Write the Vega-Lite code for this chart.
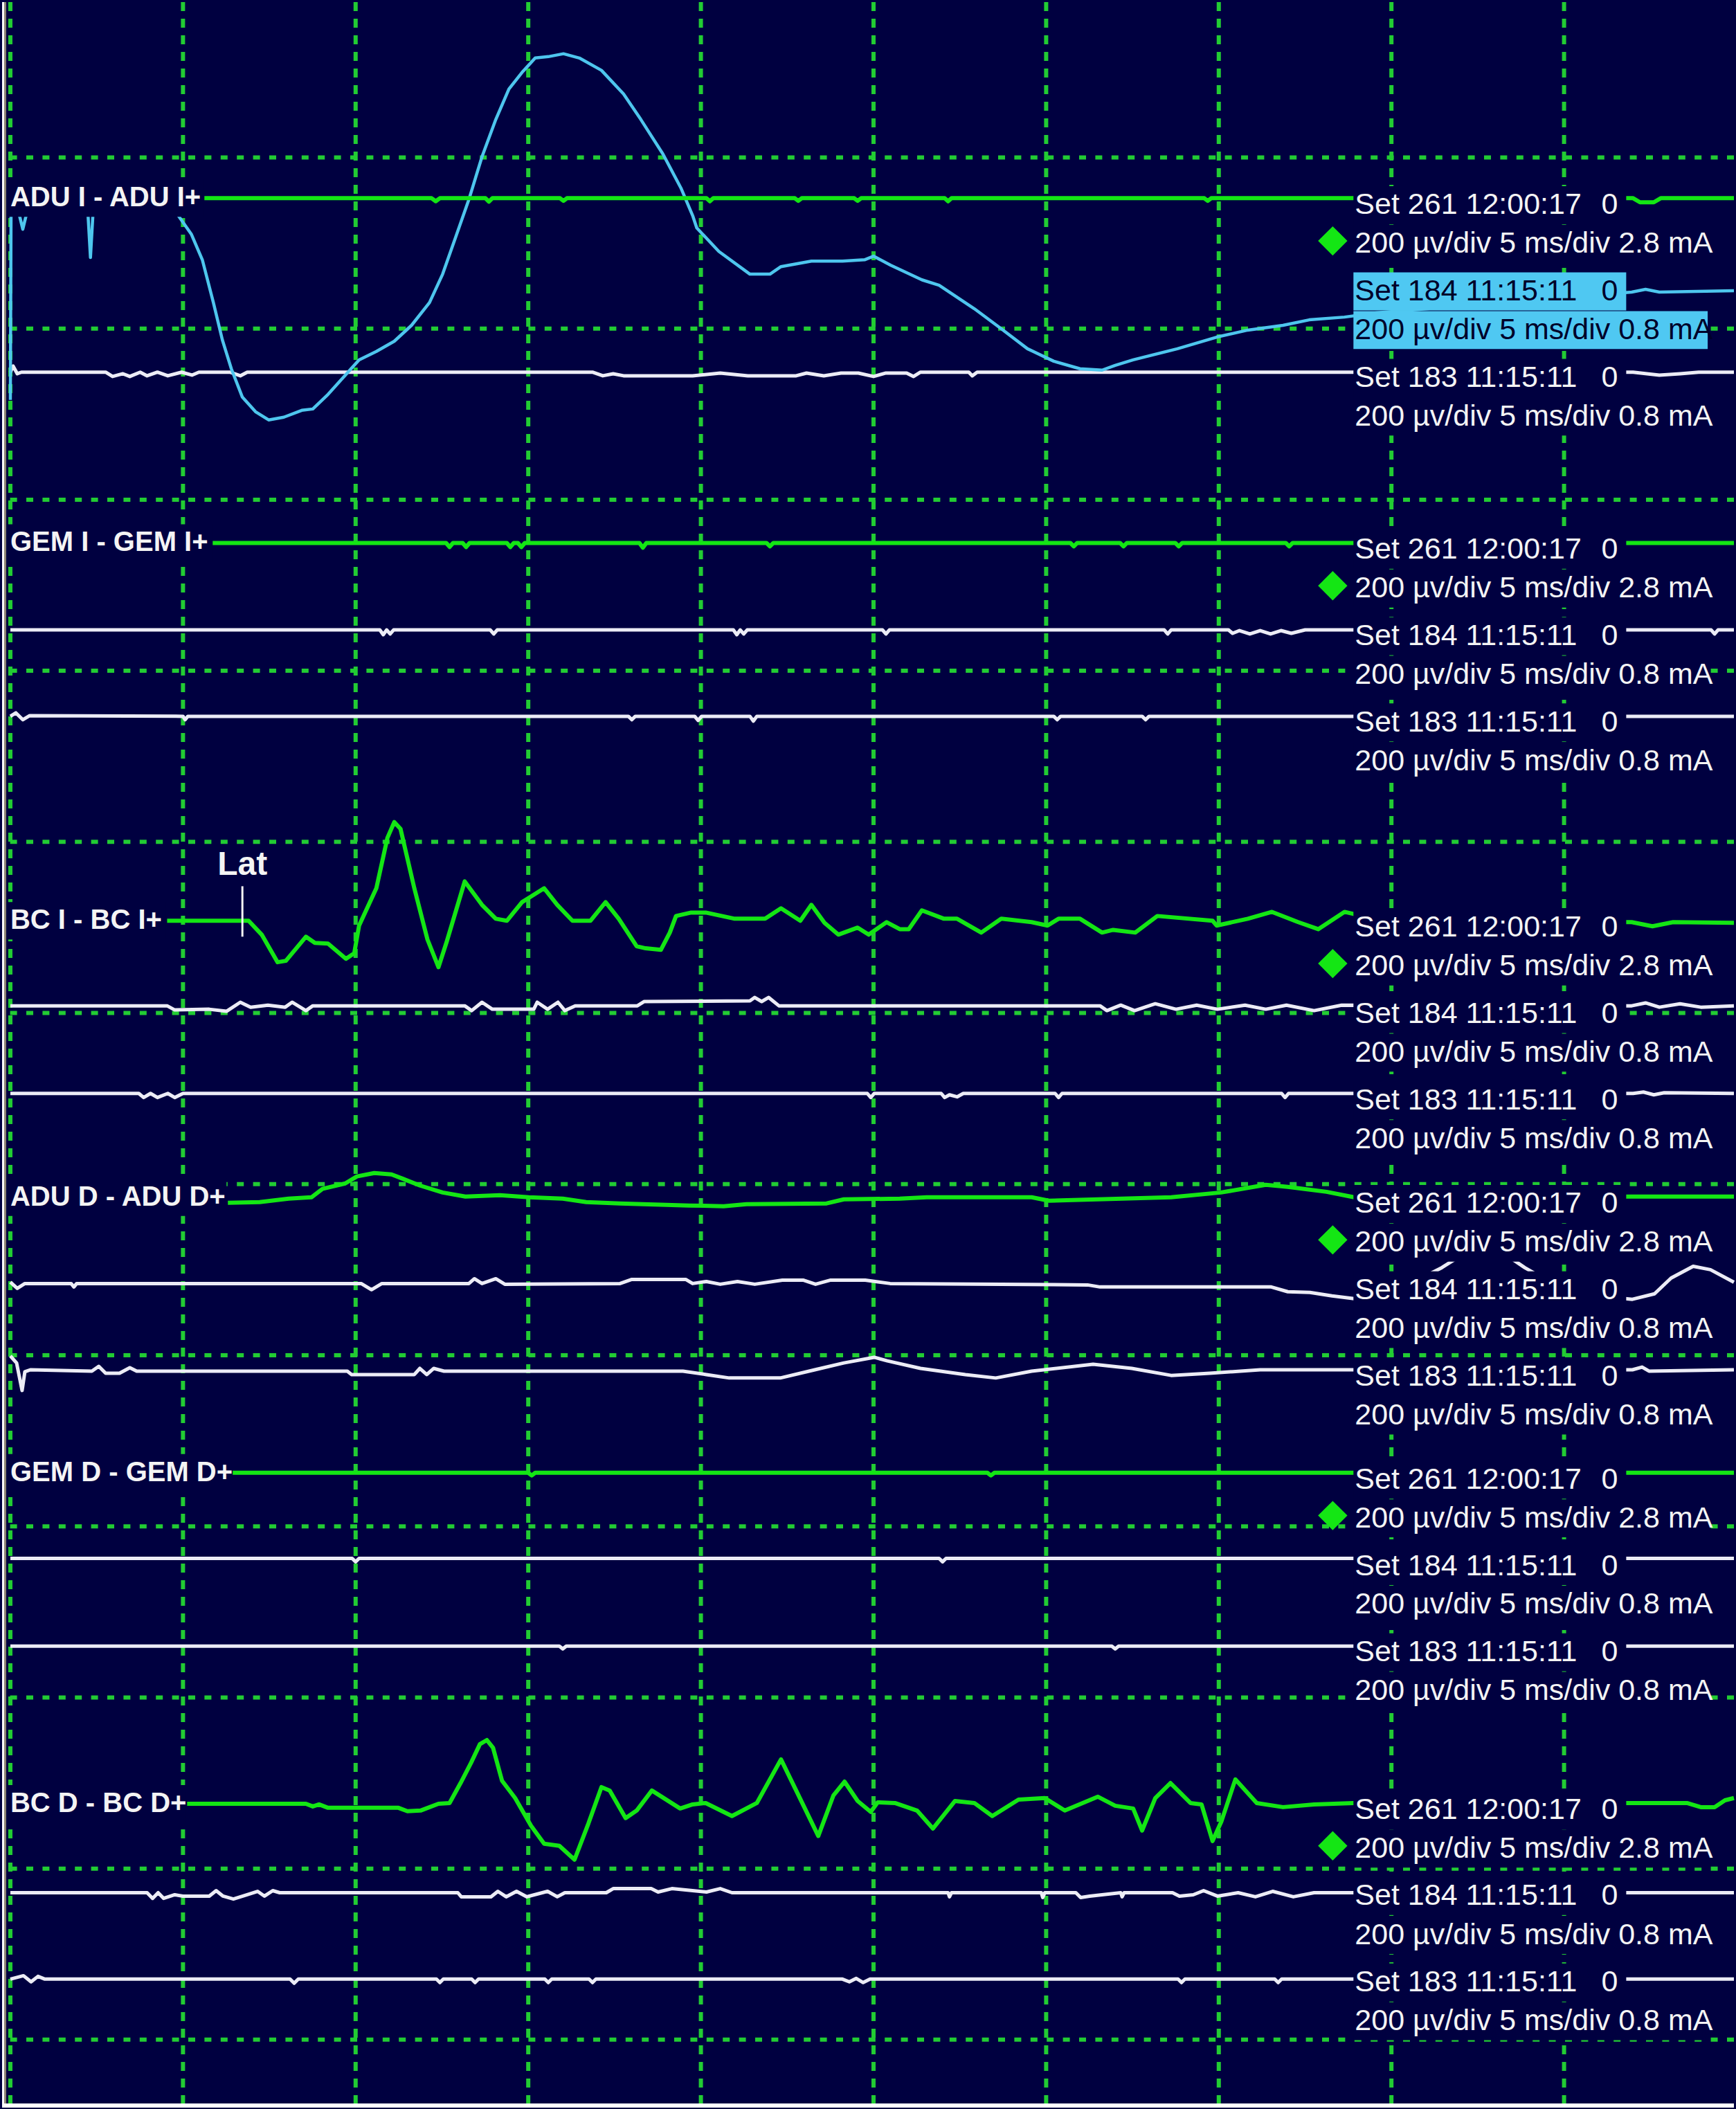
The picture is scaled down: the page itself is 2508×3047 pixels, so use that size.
{
"$schema":"https://vega.github.io/schema/vega-lite/v6.json",
"width":2508,"height":3047,
"autosize":{"type":"fit","contains":"padding"},
"padding":0,
"background":"#000040",
"config":{"view":{"stroke":null}},
"datasets":{
"vgrid":[{"t":0},{"t":5},{"t":10},{"t":15},{"t":20},{"t":25},{"t":30},{"t":35},{"t":40},{"t":45}],
"hgrid":[{"v":0},{"v":-1},{"v":-2},{"v":-3},{"v":-4},{"v":-5},{"v":-6},{"v":-7},{"v":-8},{"v":-9},{"v":-10},{"v":-11}],
"frameV":[{"t":-0.21,"col":"#ffffff"},{"t":-0.15,"col":"#8c8474"}],
"frameH":[{"v":-11.385}],
"traces":[
{"id":"g1","c":"g","t":5.62,"v":-0.238},{"id":"g1","c":"g","t":12.2,"v":-0.238},{"id":"g1","c":"g","t":12.32,"v":-0.256},{"id":"g1","c":"g","t":12.44,"v":-0.238},{"id":"g1","c":"g","t":13.76,"v":-0.238},{"id":"g1","c":"g","t":13.86,"v":-0.258},{"id":"g1","c":"g","t":13.96,"v":-0.238},{"id":"g1","c":"g","t":15.92,"v":-0.238},{"id":"g1","c":"g","t":16.02,"v":-0.254},{"id":"g1","c":"g","t":16.12,"v":-0.238},{"id":"g1","c":"g","t":20.16,"v":-0.238},{"id":"g1","c":"g","t":20.26,"v":-0.256},{"id":"g1","c":"g","t":20.36,"v":-0.238},{"id":"g1","c":"g","t":22.72,"v":-0.238},{"id":"g1","c":"g","t":22.82,"v":-0.254},{"id":"g1","c":"g","t":22.92,"v":-0.238},{"id":"g1","c":"g","t":24.44,"v":-0.238},{"id":"g1","c":"g","t":24.54,"v":-0.254},{"id":"g1","c":"g","t":24.64,"v":-0.238},{"id":"g1","c":"g","t":27.06,"v":-0.238},{"id":"g1","c":"g","t":27.16,"v":-0.256},{"id":"g1","c":"g","t":27.26,"v":-0.238},{"id":"g1","c":"g","t":34.58,"v":-0.238},{"id":"g1","c":"g","t":34.68,"v":-0.254},{"id":"g1","c":"g","t":34.78,"v":-0.238},{"id":"g1","c":"g","t":47.0,"v":-0.238},{"id":"g1","c":"g","t":47.2,"v":-0.262},{"id":"g1","c":"g","t":47.6,"v":-0.262},{"id":"g1","c":"g","t":47.8,"v":-0.238},{"id":"g1","c":"g","t":49.92,"v":-0.238},
{"id":"c1","c":"c","t":0.0,"v":-1.417},{"id":"c1","c":"c","t":0.02,"v":-0.303},{"id":"c1","c":"c","t":0.22,"v":-0.303},{"id":"c1","c":"c","t":0.36,"v":-0.42},{"id":"c1","c":"c","t":0.5,"v":-0.303},{"id":"c1","c":"c","t":2.24,"v":-0.303},{"id":"c1","c":"c","t":2.32,"v":-0.585},{"id":"c1","c":"c","t":2.4,"v":-0.303},{"id":"c1","c":"c","t":4.76,"v":-0.303},{"id":"c1","c":"c","t":4.86,"v":-0.339},{"id":"c1","c":"c","t":5.24,"v":-0.448},{"id":"c1","c":"c","t":5.56,"v":-0.598},{"id":"c1","c":"c","t":5.88,"v":-0.848},{"id":"c1","c":"c","t":6.14,"v":-1.066},{"id":"c1","c":"c","t":6.4,"v":-1.235},{"id":"c1","c":"c","t":6.72,"v":-1.401},{"id":"c1","c":"c","t":7.1,"v":-1.486},{"id":"c1","c":"c","t":7.48,"v":-1.534},{"id":"c1","c":"c","t":7.92,"v":-1.518},{"id":"c1","c":"c","t":8.44,"v":-1.478},{"id":"c1","c":"c","t":8.76,"v":-1.47},{"id":"c1","c":"c","t":9.2,"v":-1.385},{"id":"c1","c":"c","t":9.72,"v":-1.268},{"id":"c1","c":"c","t":10.1,"v":-1.183},{"id":"c1","c":"c","t":10.6,"v":-1.134},{"id":"c1","c":"c","t":11.12,"v":-1.074},{"id":"c1","c":"c","t":11.62,"v":-0.981},{"id":"c1","c":"c","t":12.14,"v":-0.848},{"id":"c1","c":"c","t":12.52,"v":-0.682},{"id":"c1","c":"c","t":12.9,"v":-0.464},{"id":"c1","c":"c","t":13.28,"v":-0.246},{"id":"c1","c":"c","t":13.66,"v":0.004},{"id":"c1","c":"c","t":14.06,"v":0.222},{"id":"c1","c":"c","t":14.44,"v":0.4},{"id":"c1","c":"c","t":14.82,"v":0.497},{"id":"c1","c":"c","t":15.2,"v":0.581},{"id":"c1","c":"c","t":15.58,"v":0.589},{"id":"c1","c":"c","t":16.02,"v":0.606},{"id":"c1","c":"c","t":16.48,"v":0.581},{"id":"c1","c":"c","t":17.12,"v":0.509},{"id":"c1","c":"c","t":17.76,"v":0.371},{"id":"c1","c":"c","t":18.26,"v":0.222},{"id":"c1","c":"c","t":18.9,"v":0.02},{"id":"c1","c":"c","t":19.42,"v":-0.178},{"id":"c1","c":"c","t":19.76,"v":-0.339},{"id":"c1","c":"c","t":19.88,"v":-0.412},{"id":"c1","c":"c","t":20.52,"v":-0.549},{"id":"c1","c":"c","t":21.42,"v":-0.682},{"id":"c1","c":"c","t":22.0,"v":-0.682},{"id":"c1","c":"c","t":22.32,"v":-0.638},{"id":"c1","c":"c","t":23.2,"v":-0.606},{"id":"c1","c":"c","t":24.1,"v":-0.606},{"id":"c1","c":"c","t":24.74,"v":-0.598},{"id":"c1","c":"c","t":25.0,"v":-0.577},{"id":"c1","c":"c","t":25.5,"v":-0.63},{"id":"c1","c":"c","t":26.4,"v":-0.715},{"id":"c1","c":"c","t":26.9,"v":-0.747},{"id":"c1","c":"c","t":27.92,"v":-0.884},{"id":"c1","c":"c","t":28.7,"v":-1.001},{"id":"c1","c":"c","t":29.46,"v":-1.118},{"id":"c1","c":"c","t":30.22,"v":-1.191},{"id":"c1","c":"c","t":30.98,"v":-1.235},{"id":"c1","c":"c","t":31.62,"v":-1.243},{"id":"c1","c":"c","t":32.0,"v":-1.215},{"id":"c1","c":"c","t":32.52,"v":-1.183},{"id":"c1","c":"c","t":33.8,"v":-1.118},{"id":"c1","c":"c","t":34.94,"v":-1.05},{"id":"c1","c":"c","t":35.84,"v":-1.009},{"id":"c1","c":"c","t":36.86,"v":-0.981},{"id":"c1","c":"c","t":37.62,"v":-0.949},{"id":"c1","c":"c","t":38.64,"v":-0.933},{"id":"c1","c":"c","t":39.56,"v":-0.908},{"id":"c1","c":"c","t":46.96,"v":-0.787},{"id":"c1","c":"c","t":47.36,"v":-0.771},{"id":"c1","c":"c","t":47.76,"v":-0.787},{"id":"c1","c":"c","t":49.92,"v":-0.779},
{"id":"w1","c":"w","t":0,"v":-1.255},{"id":"w1","c":"w","t":0.08,"v":-1.219},{"id":"w1","c":"w","t":0.2,"v":-1.264},{"id":"w1","c":"w","t":0.32,"v":-1.255},{"id":"w1","c":"w","t":2.76,"v":-1.255},{"id":"w1","c":"w","t":2.96,"v":-1.28},{"id":"w1","c":"w","t":3.26,"v":-1.264},{"id":"w1","c":"w","t":3.46,"v":-1.28},{"id":"w1","c":"w","t":3.76,"v":-1.255},{"id":"w1","c":"w","t":3.96,"v":-1.276},{"id":"w1","c":"w","t":4.26,"v":-1.255},{"id":"w1","c":"w","t":4.56,"v":-1.276},{"id":"w1","c":"w","t":4.96,"v":-1.255},{"id":"w1","c":"w","t":5.26,"v":-1.272},{"id":"w1","c":"w","t":5.46,"v":-1.255},{"id":"w1","c":"w","t":6.36,"v":-1.255},{"id":"w1","c":"w","t":6.66,"v":-1.276},{"id":"w1","c":"w","t":6.86,"v":-1.255},{"id":"w1","c":"w","t":16.86,"v":-1.255},{"id":"w1","c":"w","t":17.16,"v":-1.276},{"id":"w1","c":"w","t":17.46,"v":-1.264},{"id":"w1","c":"w","t":17.76,"v":-1.276},{"id":"w1","c":"w","t":19.76,"v":-1.276},{"id":"w1","c":"w","t":20.56,"v":-1.26},{"id":"w1","c":"w","t":21.36,"v":-1.276},{"id":"w1","c":"w","t":22.76,"v":-1.276},{"id":"w1","c":"w","t":23.06,"v":-1.26},{"id":"w1","c":"w","t":23.56,"v":-1.276},{"id":"w1","c":"w","t":24.06,"v":-1.26},{"id":"w1","c":"w","t":24.56,"v":-1.26},{"id":"w1","c":"w","t":25.0,"v":-1.28},{"id":"w1","c":"w","t":25.36,"v":-1.26},{"id":"w1","c":"w","t":25.96,"v":-1.26},{"id":"w1","c":"w","t":26.16,"v":-1.28},{"id":"w1","c":"w","t":26.36,"v":-1.255},{"id":"w1","c":"w","t":27.76,"v":-1.255},{"id":"w1","c":"w","t":27.86,"v":-1.276},{"id":"w1","c":"w","t":28.0,"v":-1.255},{"id":"w1","c":"w","t":47.0,"v":-1.255},{"id":"w1","c":"w","t":47.76,"v":-1.272},{"id":"w1","c":"w","t":48.36,"v":-1.264},{"id":"w1","c":"w","t":48.9,"v":-1.255},{"id":"w1","c":"w","t":49.92,"v":-1.255},
{"id":"g2","c":"g","t":5.86,"v":-2.253},{"id":"g2","c":"g","t":12.62,"v":-2.253},{"id":"g2","c":"g","t":12.72,"v":-2.277},{"id":"g2","c":"g","t":12.82,"v":-2.253},{"id":"g2","c":"g","t":13.1,"v":-2.253},{"id":"g2","c":"g","t":13.2,"v":-2.277},{"id":"g2","c":"g","t":13.3,"v":-2.253},{"id":"g2","c":"g","t":14.38,"v":-2.253},{"id":"g2","c":"g","t":14.48,"v":-2.277},{"id":"g2","c":"g","t":14.58,"v":-2.253},{"id":"g2","c":"g","t":14.7,"v":-2.253},{"id":"g2","c":"g","t":14.8,"v":-2.277},{"id":"g2","c":"g","t":14.9,"v":-2.253},{"id":"g2","c":"g","t":18.22,"v":-2.253},{"id":"g2","c":"g","t":18.32,"v":-2.281},{"id":"g2","c":"g","t":18.42,"v":-2.253},{"id":"g2","c":"g","t":21.9,"v":-2.253},{"id":"g2","c":"g","t":22.0,"v":-2.273},{"id":"g2","c":"g","t":22.1,"v":-2.253},{"id":"g2","c":"g","t":30.7,"v":-2.253},{"id":"g2","c":"g","t":30.8,"v":-2.273},{"id":"g2","c":"g","t":30.9,"v":-2.253},{"id":"g2","c":"g","t":32.14,"v":-2.253},{"id":"g2","c":"g","t":32.24,"v":-2.273},{"id":"g2","c":"g","t":32.34,"v":-2.253},{"id":"g2","c":"g","t":33.74,"v":-2.253},{"id":"g2","c":"g","t":33.84,"v":-2.273},{"id":"g2","c":"g","t":33.94,"v":-2.253},{"id":"g2","c":"g","t":36.94,"v":-2.253},{"id":"g2","c":"g","t":37.04,"v":-2.273},{"id":"g2","c":"g","t":37.14,"v":-2.253},{"id":"g2","c":"g","t":49.92,"v":-2.253},
{"id":"w2a","c":"w","t":0,"v":-2.761},{"id":"w2a","c":"w","t":10.7,"v":-2.761},{"id":"w2a","c":"w","t":10.8,"v":-2.789},{"id":"w2a","c":"w","t":10.9,"v":-2.761},{"id":"w2a","c":"w","t":11.0,"v":-2.785},{"id":"w2a","c":"w","t":11.1,"v":-2.761},{"id":"w2a","c":"w","t":13.9,"v":-2.761},{"id":"w2a","c":"w","t":14.0,"v":-2.785},{"id":"w2a","c":"w","t":14.1,"v":-2.761},{"id":"w2a","c":"w","t":20.94,"v":-2.761},{"id":"w2a","c":"w","t":21.04,"v":-2.789},{"id":"w2a","c":"w","t":21.14,"v":-2.761},{"id":"w2a","c":"w","t":21.24,"v":-2.785},{"id":"w2a","c":"w","t":21.34,"v":-2.761},{"id":"w2a","c":"w","t":25.26,"v":-2.761},{"id":"w2a","c":"w","t":25.36,"v":-2.785},{"id":"w2a","c":"w","t":25.46,"v":-2.761},{"id":"w2a","c":"w","t":33.42,"v":-2.761},{"id":"w2a","c":"w","t":33.52,"v":-2.785},{"id":"w2a","c":"w","t":33.62,"v":-2.761},{"id":"w2a","c":"w","t":35.28,"v":-2.761},{"id":"w2a","c":"w","t":35.4,"v":-2.781},{"id":"w2a","c":"w","t":35.6,"v":-2.765},{"id":"w2a","c":"w","t":35.9,"v":-2.785},{"id":"w2a","c":"w","t":36.2,"v":-2.765},{"id":"w2a","c":"w","t":36.5,"v":-2.785},{"id":"w2a","c":"w","t":36.8,"v":-2.765},{"id":"w2a","c":"w","t":37.1,"v":-2.781},{"id":"w2a","c":"w","t":37.5,"v":-2.761},{"id":"w2a","c":"w","t":49.26,"v":-2.761},{"id":"w2a","c":"w","t":49.36,"v":-2.785},{"id":"w2a","c":"w","t":49.46,"v":-2.761},{"id":"w2a","c":"w","t":49.92,"v":-2.761},
{"id":"w2b","c":"w","t":0,"v":-3.266},{"id":"w2b","c":"w","t":0.16,"v":-3.246},{"id":"w2b","c":"w","t":0.36,"v":-3.286},{"id":"w2b","c":"w","t":0.56,"v":-3.262},{"id":"w2b","c":"w","t":5.0,"v":-3.266},{"id":"w2b","c":"w","t":5.06,"v":-3.286},{"id":"w2b","c":"w","t":5.14,"v":-3.266},{"id":"w2b","c":"w","t":17.9,"v":-3.266},{"id":"w2b","c":"w","t":18.0,"v":-3.286},{"id":"w2b","c":"w","t":18.1,"v":-3.266},{"id":"w2b","c":"w","t":19.82,"v":-3.266},{"id":"w2b","c":"w","t":19.92,"v":-3.29},{"id":"w2b","c":"w","t":20.02,"v":-3.266},{"id":"w2b","c":"w","t":21.42,"v":-3.266},{"id":"w2b","c":"w","t":21.52,"v":-3.294},{"id":"w2b","c":"w","t":21.62,"v":-3.266},{"id":"w2b","c":"w","t":30.22,"v":-3.266},{"id":"w2b","c":"w","t":30.32,"v":-3.286},{"id":"w2b","c":"w","t":30.42,"v":-3.266},{"id":"w2b","c":"w","t":32.78,"v":-3.266},{"id":"w2b","c":"w","t":32.88,"v":-3.286},{"id":"w2b","c":"w","t":32.98,"v":-3.266},{"id":"w2b","c":"w","t":49.92,"v":-3.266},
{"id":"g3","c":"g","t":4.54,"v":-4.461},{"id":"g3","c":"g","t":6.9,"v":-4.461},{"id":"g3","c":"g","t":7.28,"v":-4.542},{"id":"g3","c":"g","t":7.74,"v":-4.703},{"id":"g3","c":"g","t":7.98,"v":-4.695},{"id":"g3","c":"g","t":8.56,"v":-4.554},{"id":"g3","c":"g","t":8.82,"v":-4.59},{"id":"g3","c":"g","t":9.2,"v":-4.594},{"id":"g3","c":"g","t":9.72,"v":-4.683},{"id":"g3","c":"g","t":9.96,"v":-4.651},{"id":"g3","c":"g","t":10.1,"v":-4.489},{"id":"g3","c":"g","t":10.6,"v":-4.271},{"id":"g3","c":"g","t":10.92,"v":-3.977},{"id":"g3","c":"g","t":11.12,"v":-3.884},{"id":"g3","c":"g","t":11.3,"v":-3.924},{"id":"g3","c":"g","t":11.7,"v":-4.271},{"id":"g3","c":"g","t":12.08,"v":-4.57},{"id":"g3","c":"g","t":12.4,"v":-4.732},{"id":"g3","c":"g","t":12.64,"v":-4.582},{"id":"g3","c":"g","t":13.16,"v":-4.231},{"id":"g3","c":"g","t":13.66,"v":-4.368},{"id":"g3","c":"g","t":14.06,"v":-4.449},{"id":"g3","c":"g","t":14.38,"v":-4.461},{"id":"g3","c":"g","t":14.82,"v":-4.352},{"id":"g3","c":"g","t":15.46,"v":-4.271},{"id":"g3","c":"g","t":15.84,"v":-4.368},{"id":"g3","c":"g","t":16.28,"v":-4.461},{"id":"g3","c":"g","t":16.8,"v":-4.461},{"id":"g3","c":"g","t":17.24,"v":-4.352},{"id":"g3","c":"g","t":17.62,"v":-4.449},{"id":"g3","c":"g","t":18.14,"v":-4.61},{"id":"g3","c":"g","t":18.4,"v":-4.622},{"id":"g3","c":"g","t":18.84,"v":-4.631},{"id":"g3","c":"g","t":19.1,"v":-4.53},{"id":"g3","c":"g","t":19.28,"v":-4.433},{"id":"g3","c":"g","t":19.72,"v":-4.413},{"id":"g3","c":"g","t":20.14,"v":-4.413},{"id":"g3","c":"g","t":20.98,"v":-4.449},{"id":"g3","c":"g","t":21.86,"v":-4.449},{"id":"g3","c":"g","t":22.32,"v":-4.388},{"id":"g3","c":"g","t":22.88,"v":-4.461},{"id":"g3","c":"g","t":23.2,"v":-4.368},{"id":"g3","c":"g","t":23.58,"v":-4.473},{"id":"g3","c":"g","t":23.98,"v":-4.542},{"id":"g3","c":"g","t":24.54,"v":-4.501},{"id":"g3","c":"g","t":24.86,"v":-4.542},{"id":"g3","c":"g","t":25.38,"v":-4.469},{"id":"g3","c":"g","t":25.76,"v":-4.51},{"id":"g3","c":"g","t":26.02,"v":-4.51},{"id":"g3","c":"g","t":26.4,"v":-4.4},{"id":"g3","c":"g","t":27.04,"v":-4.449},{"id":"g3","c":"g","t":27.42,"v":-4.449},{"id":"g3","c":"g","t":28.12,"v":-4.53},{"id":"g3","c":"g","t":28.7,"v":-4.449},{"id":"g3","c":"g","t":29.58,"v":-4.469},{"id":"g3","c":"g","t":30.04,"v":-4.489},{"id":"g3","c":"g","t":30.36,"v":-4.449},{"id":"g3","c":"g","t":30.98,"v":-4.449},{"id":"g3","c":"g","t":31.62,"v":-4.53},{"id":"g3","c":"g","t":31.94,"v":-4.514},{"id":"g3","c":"g","t":32.58,"v":-4.53},{"id":"g3","c":"g","t":33.22,"v":-4.433},{"id":"g3","c":"g","t":34.82,"v":-4.461},{"id":"g3","c":"g","t":34.94,"v":-4.489},{"id":"g3","c":"g","t":35.84,"v":-4.449},{"id":"g3","c":"g","t":36.54,"v":-4.409},{"id":"g3","c":"g","t":37.3,"v":-4.469},{"id":"g3","c":"g","t":37.88,"v":-4.51},{"id":"g3","c":"g","t":38.64,"v":-4.409},{"id":"g3","c":"g","t":38.9,"v":-4.421},{"id":"g3","c":"g","t":39.76,"v":-4.461},{"id":"g3","c":"g","t":46.96,"v":-4.469},{"id":"g3","c":"g","t":47.56,"v":-4.493},{"id":"g3","c":"g","t":48.16,"v":-4.469},{"id":"g3","c":"g","t":49.92,"v":-4.473},
{"id":"w3a","c":"w","t":0,"v":-4.958},{"id":"w3a","c":"w","t":4.54,"v":-4.958},{"id":"w3a","c":"w","t":4.76,"v":-4.982},{"id":"w3a","c":"w","t":5.76,"v":-4.978},{"id":"w3a","c":"w","t":6.26,"v":-4.99},{"id":"w3a","c":"w","t":6.66,"v":-4.937},{"id":"w3a","c":"w","t":6.96,"v":-4.966},{"id":"w3a","c":"w","t":7.46,"v":-4.954},{"id":"w3a","c":"w","t":7.96,"v":-4.966},{"id":"w3a","c":"w","t":8.16,"v":-4.937},{"id":"w3a","c":"w","t":8.56,"v":-4.986},{"id":"w3a","c":"w","t":8.76,"v":-4.958},{"id":"w3a","c":"w","t":13.16,"v":-4.958},{"id":"w3a","c":"w","t":13.36,"v":-4.986},{"id":"w3a","c":"w","t":13.66,"v":-4.937},{"id":"w3a","c":"w","t":13.96,"v":-4.978},{"id":"w3a","c":"w","t":15.16,"v":-4.978},{"id":"w3a","c":"w","t":15.26,"v":-4.937},{"id":"w3a","c":"w","t":15.56,"v":-4.978},{"id":"w3a","c":"w","t":15.86,"v":-4.937},{"id":"w3a","c":"w","t":16.06,"v":-4.986},{"id":"w3a","c":"w","t":16.36,"v":-4.958},{"id":"w3a","c":"w","t":18.16,"v":-4.958},{"id":"w3a","c":"w","t":18.36,"v":-4.933},{"id":"w3a","c":"w","t":21.42,"v":-4.929},{"id":"w3a","c":"w","t":21.56,"v":-4.909},{"id":"w3a","c":"w","t":21.76,"v":-4.933},{"id":"w3a","c":"w","t":21.96,"v":-4.909},{"id":"w3a","c":"w","t":22.26,"v":-4.958},{"id":"w3a","c":"w","t":31.56,"v":-4.958},{"id":"w3a","c":"w","t":31.76,"v":-4.986},{"id":"w3a","c":"w","t":32.16,"v":-4.954},{"id":"w3a","c":"w","t":32.56,"v":-4.986},{"id":"w3a","c":"w","t":33.16,"v":-4.946},{"id":"w3a","c":"w","t":33.76,"v":-4.978},{"id":"w3a","c":"w","t":34.36,"v":-4.954},{"id":"w3a","c":"w","t":34.96,"v":-4.978},{"id":"w3a","c":"w","t":35.76,"v":-4.954},{"id":"w3a","c":"w","t":36.36,"v":-4.978},{"id":"w3a","c":"w","t":36.96,"v":-4.954},{"id":"w3a","c":"w","t":37.76,"v":-4.986},{"id":"w3a","c":"w","t":38.56,"v":-4.954},{"id":"w3a","c":"w","t":46.96,"v":-4.958},{"id":"w3a","c":"w","t":47.36,"v":-4.941},{"id":"w3a","c":"w","t":47.76,"v":-4.966},{"id":"w3a","c":"w","t":48.36,"v":-4.946},{"id":"w3a","c":"w","t":48.96,"v":-4.966},{"id":"w3a","c":"w","t":49.92,"v":-4.958},
{"id":"w3b","c":"w","t":0,"v":-5.47},{"id":"w3b","c":"w","t":3.72,"v":-5.47},{"id":"w3b","c":"w","t":3.86,"v":-5.494},{"id":"w3b","c":"w","t":4.06,"v":-5.47},{"id":"w3b","c":"w","t":4.26,"v":-5.494},{"id":"w3b","c":"w","t":4.56,"v":-5.47},{"id":"w3b","c":"w","t":4.76,"v":-5.494},{"id":"w3b","c":"w","t":5.0,"v":-5.47},{"id":"w3b","c":"w","t":24.82,"v":-5.47},{"id":"w3b","c":"w","t":24.92,"v":-5.494},{"id":"w3b","c":"w","t":25.02,"v":-5.47},{"id":"w3b","c":"w","t":26.96,"v":-5.47},{"id":"w3b","c":"w","t":27.06,"v":-5.494},{"id":"w3b","c":"w","t":27.2,"v":-5.478},{"id":"w3b","c":"w","t":27.42,"v":-5.49},{"id":"w3b","c":"w","t":27.6,"v":-5.47},{"id":"w3b","c":"w","t":30.26,"v":-5.47},{"id":"w3b","c":"w","t":30.36,"v":-5.494},{"id":"w3b","c":"w","t":30.46,"v":-5.47},{"id":"w3b","c":"w","t":36.82,"v":-5.47},{"id":"w3b","c":"w","t":36.92,"v":-5.494},{"id":"w3b","c":"w","t":37.02,"v":-5.47},{"id":"w3b","c":"w","t":47.0,"v":-5.47},{"id":"w3b","c":"w","t":47.3,"v":-5.462},{"id":"w3b","c":"w","t":47.6,"v":-5.478},{"id":"w3b","c":"w","t":47.9,"v":-5.466},{"id":"w3b","c":"w","t":49.92,"v":-5.47},
{"id":"g4","c":"g","t":6.3,"v":-6.109},{"id":"g4","c":"g","t":7.22,"v":-6.105},{"id":"g4","c":"g","t":8.06,"v":-6.085},{"id":"g4","c":"g","t":8.72,"v":-6.077},{"id":"g4","c":"g","t":9.04,"v":-6.028},{"id":"g4","c":"g","t":9.7,"v":-5.996},{"id":"g4","c":"g","t":10.04,"v":-5.955},{"id":"g4","c":"g","t":10.54,"v":-5.935},{"id":"g4","c":"g","t":11.04,"v":-5.943},{"id":"g4","c":"g","t":11.36,"v":-5.968},{"id":"g4","c":"g","t":11.86,"v":-6.008},{"id":"g4","c":"g","t":12.52,"v":-6.049},{"id":"g4","c":"g","t":13.18,"v":-6.073},{"id":"g4","c":"g","t":14.18,"v":-6.065},{"id":"g4","c":"g","t":15.02,"v":-6.077},{"id":"g4","c":"g","t":16.0,"v":-6.085},{"id":"g4","c":"g","t":16.68,"v":-6.105},{"id":"g4","c":"g","t":17.66,"v":-6.113},{"id":"g4","c":"g","t":19.66,"v":-6.125},{"id":"g4","c":"g","t":20.66,"v":-6.129},{"id":"g4","c":"g","t":21.32,"v":-6.117},{"id":"g4","c":"g","t":23.64,"v":-6.113},{"id":"g4","c":"g","t":24.14,"v":-6.089},{"id":"g4","c":"g","t":25.76,"v":-6.085},{"id":"g4","c":"g","t":26.54,"v":-6.077},{"id":"g4","c":"g","t":29.58,"v":-6.077},{"id":"g4","c":"g","t":30.08,"v":-6.097},{"id":"g4","c":"g","t":33.62,"v":-6.077},{"id":"g4","c":"g","t":35.06,"v":-6.049},{"id":"g4","c":"g","t":36.36,"v":-6.004},{"id":"g4","c":"g","t":37.0,"v":-6.016},{"id":"g4","c":"g","t":38.12,"v":-6.045},{"id":"g4","c":"g","t":38.92,"v":-6.077},{"id":"g4","c":"g","t":46.98,"v":-6.073},{"id":"g4","c":"g","t":49.92,"v":-6.073},
{"id":"w4a","c":"w","t":0,"v":-6.573},{"id":"w4a","c":"w","t":0.2,"v":-6.609},{"id":"w4a","c":"w","t":0.42,"v":-6.581},{"id":"w4a","c":"w","t":1.76,"v":-6.581},{"id":"w4a","c":"w","t":1.84,"v":-6.601},{"id":"w4a","c":"w","t":1.92,"v":-6.581},{"id":"w4a","c":"w","t":10.16,"v":-6.581},{"id":"w4a","c":"w","t":10.46,"v":-6.617},{"id":"w4a","c":"w","t":10.76,"v":-6.581},{"id":"w4a","c":"w","t":13.28,"v":-6.581},{"id":"w4a","c":"w","t":13.44,"v":-6.553},{"id":"w4a","c":"w","t":13.66,"v":-6.581},{"id":"w4a","c":"w","t":14.06,"v":-6.553},{"id":"w4a","c":"w","t":14.32,"v":-6.585},{"id":"w4a","c":"w","t":17.66,"v":-6.581},{"id":"w4a","c":"w","t":18.0,"v":-6.557},{"id":"w4a","c":"w","t":19.56,"v":-6.557},{"id":"w4a","c":"w","t":19.76,"v":-6.581},{"id":"w4a","c":"w","t":20.16,"v":-6.569},{"id":"w4a","c":"w","t":20.56,"v":-6.585},{"id":"w4a","c":"w","t":21.06,"v":-6.569},{"id":"w4a","c":"w","t":21.56,"v":-6.585},{"id":"w4a","c":"w","t":22.36,"v":-6.561},{"id":"w4a","c":"w","t":22.96,"v":-6.561},{"id":"w4a","c":"w","t":23.32,"v":-6.585},{"id":"w4a","c":"w","t":23.76,"v":-6.561},{"id":"w4a","c":"w","t":24.76,"v":-6.561},{"id":"w4a","c":"w","t":25.48,"v":-6.581},{"id":"w4a","c":"w","t":31.2,"v":-6.589},{"id":"w4a","c":"w","t":31.56,"v":-6.601},{"id":"w4a","c":"w","t":36.52,"v":-6.601},{"id":"w4a","c":"w","t":37.0,"v":-6.629},{"id":"w4a","c":"w","t":37.64,"v":-6.633},{"id":"w4a","c":"w","t":38.28,"v":-6.653},{"id":"w4a","c":"w","t":38.92,"v":-6.669},{"id":"w4a","c":"w","t":39.76,"v":-6.641},{"id":"w4a","c":"w","t":40.76,"v":-6.56},{"id":"w4a","c":"w","t":41.46,"v":-6.488},{"id":"w4a","c":"w","t":42.16,"v":-6.399},{"id":"w4a","c":"w","t":42.76,"v":-6.379},{"id":"w4a","c":"w","t":43.36,"v":-6.419},{"id":"w4a","c":"w","t":43.86,"v":-6.488},{"id":"w4a","c":"w","t":44.56,"v":-6.569},{"id":"w4a","c":"w","t":45.76,"v":-6.649},{"id":"w4a","c":"w","t":46.98,"v":-6.673},{"id":"w4a","c":"w","t":47.62,"v":-6.641},{"id":"w4a","c":"w","t":48.1,"v":-6.549},{"id":"w4a","c":"w","t":48.74,"v":-6.48},{"id":"w4a","c":"w","t":49.24,"v":-6.5},{"id":"w4a","c":"w","t":49.92,"v":-6.573},
{"id":"w4b","c":"w","t":0,"v":-7.004},{"id":"w4b","c":"w","t":0.18,"v":-7.045},{"id":"w4b","c":"w","t":0.34,"v":-7.206},{"id":"w4b","c":"w","t":0.42,"v":-7.097},{"id":"w4b","c":"w","t":0.58,"v":-7.085},{"id":"w4b","c":"w","t":2.36,"v":-7.093},{"id":"w4b","c":"w","t":2.56,"v":-7.065},{"id":"w4b","c":"w","t":2.76,"v":-7.105},{"id":"w4b","c":"w","t":3.16,"v":-7.105},{"id":"w4b","c":"w","t":3.46,"v":-7.073},{"id":"w4b","c":"w","t":3.66,"v":-7.093},{"id":"w4b","c":"w","t":9.76,"v":-7.093},{"id":"w4b","c":"w","t":9.88,"v":-7.113},{"id":"w4b","c":"w","t":11.7,"v":-7.113},{"id":"w4b","c":"w","t":11.86,"v":-7.077},{"id":"w4b","c":"w","t":12.06,"v":-7.113},{"id":"w4b","c":"w","t":12.26,"v":-7.077},{"id":"w4b","c":"w","t":12.56,"v":-7.093},{"id":"w4b","c":"w","t":19.48,"v":-7.093},{"id":"w4b","c":"w","t":20.16,"v":-7.113},{"id":"w4b","c":"w","t":20.82,"v":-7.133},{"id":"w4b","c":"w","t":22.3,"v":-7.133},{"id":"w4b","c":"w","t":23.3,"v":-7.085},{"id":"w4b","c":"w","t":24.14,"v":-7.045},{"id":"w4b","c":"w","t":25.02,"v":-7.012},{"id":"w4b","c":"w","t":25.4,"v":-7.033},{"id":"w4b","c":"w","t":26.36,"v":-7.077},{"id":"w4b","c":"w","t":27.66,"v":-7.113},{"id":"w4b","c":"w","t":28.54,"v":-7.133},{"id":"w4b","c":"w","t":29.58,"v":-7.093},{"id":"w4b","c":"w","t":31.36,"v":-7.053},{"id":"w4b","c":"w","t":32.48,"v":-7.077},{"id":"w4b","c":"w","t":33.62,"v":-7.118},{"id":"w4b","c":"w","t":34.74,"v":-7.105},{"id":"w4b","c":"w","t":36.2,"v":-7.085},{"id":"w4b","c":"w","t":38.92,"v":-7.085},{"id":"w4b","c":"w","t":46.98,"v":-7.085},{"id":"w4b","c":"w","t":47.26,"v":-7.069},{"id":"w4b","c":"w","t":47.46,"v":-7.093},{"id":"w4b","c":"w","t":49.92,"v":-7.085},
{"id":"g5","c":"g","t":6.44,"v":-7.687},{"id":"g5","c":"g","t":15.0,"v":-7.687},{"id":"g5","c":"g","t":15.1,"v":-7.703},{"id":"g5","c":"g","t":15.2,"v":-7.687},{"id":"g5","c":"g","t":28.3,"v":-7.687},{"id":"g5","c":"g","t":28.4,"v":-7.703},{"id":"g5","c":"g","t":28.5,"v":-7.687},{"id":"g5","c":"g","t":49.92,"v":-7.687},
{"id":"w5a","c":"w","t":0,"v":-8.187},{"id":"w5a","c":"w","t":9.9,"v":-8.187},{"id":"w5a","c":"w","t":10.0,"v":-8.207},{"id":"w5a","c":"w","t":10.1,"v":-8.187},{"id":"w5a","c":"w","t":26.9,"v":-8.187},{"id":"w5a","c":"w","t":27.0,"v":-8.207},{"id":"w5a","c":"w","t":27.1,"v":-8.187},{"id":"w5a","c":"w","t":49.92,"v":-8.187},
{"id":"w5b","c":"w","t":0,"v":-8.7},{"id":"w5b","c":"w","t":15.9,"v":-8.7},{"id":"w5b","c":"w","t":16.0,"v":-8.716},{"id":"w5b","c":"w","t":16.1,"v":-8.7},{"id":"w5b","c":"w","t":31.9,"v":-8.7},{"id":"w5b","c":"w","t":32.0,"v":-8.716},{"id":"w5b","c":"w","t":32.1,"v":-8.7},{"id":"w5b","c":"w","t":49.92,"v":-8.7},
{"id":"g6","c":"g","t":5.12,"v":-9.621},{"id":"g6","c":"g","t":8.56,"v":-9.621},{"id":"g6","c":"g","t":8.76,"v":-9.637},{"id":"g6","c":"g","t":8.94,"v":-9.625},{"id":"g6","c":"g","t":9.2,"v":-9.645},{"id":"g6","c":"g","t":11.24,"v":-9.645},{"id":"g6","c":"g","t":11.5,"v":-9.665},{"id":"g6","c":"g","t":11.88,"v":-9.661},{"id":"g6","c":"g","t":12.4,"v":-9.621},{"id":"g6","c":"g","t":12.72,"v":-9.617},{"id":"g6","c":"g","t":13.04,"v":-9.5},{"id":"g6","c":"g","t":13.34,"v":-9.383},{"id":"g6","c":"g","t":13.6,"v":-9.273},{"id":"g6","c":"g","t":13.8,"v":-9.249},{"id":"g6","c":"g","t":13.98,"v":-9.294},{"id":"g6","c":"g","t":14.24,"v":-9.487},{"id":"g6","c":"g","t":14.62,"v":-9.588},{"id":"g6","c":"g","t":15.08,"v":-9.75},{"id":"g6","c":"g","t":15.46,"v":-9.855},{"id":"g6","c":"g","t":15.9,"v":-9.867},{"id":"g6","c":"g","t":16.34,"v":-9.948},{"id":"g6","c":"g","t":16.74,"v":-9.738},{"id":"g6","c":"g","t":17.12,"v":-9.524},{"id":"g6","c":"g","t":17.36,"v":-9.544},{"id":"g6","c":"g","t":17.82,"v":-9.705},{"id":"g6","c":"g","t":18.14,"v":-9.661},{"id":"g6","c":"g","t":18.58,"v":-9.544},{"id":"g6","c":"g","t":19.4,"v":-9.649},{"id":"g6","c":"g","t":19.76,"v":-9.625},{"id":"g6","c":"g","t":20.14,"v":-9.617},{"id":"g6","c":"g","t":20.9,"v":-9.693},{"id":"g6","c":"g","t":21.62,"v":-9.617},{"id":"g6","c":"g","t":22.32,"v":-9.362},{"id":"g6","c":"g","t":22.76,"v":-9.544},{"id":"g6","c":"g","t":23.4,"v":-9.81},{"id":"g6","c":"g","t":23.84,"v":-9.572},{"id":"g6","c":"g","t":24.16,"v":-9.492},{"id":"g6","c":"g","t":24.54,"v":-9.605},{"id":"g6","c":"g","t":24.92,"v":-9.669},{"id":"g6","c":"g","t":25.12,"v":-9.613},{"id":"g6","c":"g","t":25.62,"v":-9.617},{"id":"g6","c":"g","t":26.26,"v":-9.661},{"id":"g6","c":"g","t":26.72,"v":-9.766},{"id":"g6","c":"g","t":27.36,"v":-9.605},{"id":"g6","c":"g","t":27.92,"v":-9.617},{"id":"g6","c":"g","t":28.44,"v":-9.693},{"id":"g6","c":"g","t":29.2,"v":-9.597},{"id":"g6","c":"g","t":29.96,"v":-9.588},{"id":"g6","c":"g","t":30.54,"v":-9.661},{"id":"g6","c":"g","t":31.5,"v":-9.58},{"id":"g6","c":"g","t":32.0,"v":-9.633},{"id":"g6","c":"g","t":32.52,"v":-9.649},{"id":"g6","c":"g","t":32.78,"v":-9.778},{"id":"g6","c":"g","t":33.16,"v":-9.588},{"id":"g6","c":"g","t":33.6,"v":-9.5},{"id":"g6","c":"g","t":34.18,"v":-9.617},{"id":"g6","c":"g","t":34.5,"v":-9.625},{"id":"g6","c":"g","t":34.82,"v":-9.839},{"id":"g6","c":"g","t":35.08,"v":-9.722},{"id":"g6","c":"g","t":35.48,"v":-9.479},{"id":"g6","c":"g","t":36.1,"v":-9.617},{"id":"g6","c":"g","t":36.86,"v":-9.641},{"id":"g6","c":"g","t":37.76,"v":-9.625},{"id":"g6","c":"g","t":38.9,"v":-9.617},{"id":"g6","c":"g","t":46.96,"v":-9.617},{"id":"g6","c":"g","t":48.56,"v":-9.617},{"id":"g6","c":"g","t":48.96,"v":-9.641},{"id":"g6","c":"g","t":49.36,"v":-9.641},{"id":"g6","c":"g","t":49.66,"v":-9.601},{"id":"g6","c":"g","t":49.92,"v":-9.588},
{"id":"w6a","c":"w","t":0,"v":-10.141},{"id":"w6a","c":"w","t":3.96,"v":-10.141},{"id":"w6a","c":"w","t":4.12,"v":-10.174},{"id":"w6a","c":"w","t":4.28,"v":-10.141},{"id":"w6a","c":"w","t":4.44,"v":-10.174},{"id":"w6a","c":"w","t":4.76,"v":-10.153},{"id":"w6a","c":"w","t":5.0,"v":-10.161},{"id":"w6a","c":"w","t":5.76,"v":-10.161},{"id":"w6a","c":"w","t":5.96,"v":-10.129},{"id":"w6a","c":"w","t":6.16,"v":-10.161},{"id":"w6a","c":"w","t":6.46,"v":-10.178},{"id":"w6a","c":"w","t":6.86,"v":-10.153},{"id":"w6a","c":"w","t":7.16,"v":-10.133},{"id":"w6a","c":"w","t":7.36,"v":-10.161},{"id":"w6a","c":"w","t":7.6,"v":-10.129},{"id":"w6a","c":"w","t":7.8,"v":-10.141},{"id":"w6a","c":"w","t":12.96,"v":-10.141},{"id":"w6a","c":"w","t":13.06,"v":-10.165},{"id":"w6a","c":"w","t":13.92,"v":-10.165},{"id":"w6a","c":"w","t":14.12,"v":-10.133},{"id":"w6a","c":"w","t":14.36,"v":-10.165},{"id":"w6a","c":"w","t":14.66,"v":-10.133},{"id":"w6a","c":"w","t":14.96,"v":-10.165},{"id":"w6a","c":"w","t":15.56,"v":-10.133},{"id":"w6a","c":"w","t":15.84,"v":-10.165},{"id":"w6a","c":"w","t":16.06,"v":-10.141},{"id":"w6a","c":"w","t":17.26,"v":-10.141},{"id":"w6a","c":"w","t":17.46,"v":-10.117},{"id":"w6a","c":"w","t":18.56,"v":-10.117},{"id":"w6a","c":"w","t":18.76,"v":-10.137},{"id":"w6a","c":"w","t":19.16,"v":-10.117},{"id":"w6a","c":"w","t":20.16,"v":-10.137},{"id":"w6a","c":"w","t":20.56,"v":-10.117},{"id":"w6a","c":"w","t":20.9,"v":-10.141},{"id":"w6a","c":"w","t":27.16,"v":-10.141},{"id":"w6a","c":"w","t":27.2,"v":-10.165},{"id":"w6a","c":"w","t":27.26,"v":-10.141},{"id":"w6a","c":"w","t":29.86,"v":-10.141},{"id":"w6a","c":"w","t":29.9,"v":-10.169},{"id":"w6a","c":"w","t":29.96,"v":-10.141},{"id":"w6a","c":"w","t":30.86,"v":-10.141},{"id":"w6a","c":"w","t":31.0,"v":-10.169},{"id":"w6a","c":"w","t":31.26,"v":-10.161},{"id":"w6a","c":"w","t":32.16,"v":-10.141},{"id":"w6a","c":"w","t":32.2,"v":-10.165},{"id":"w6a","c":"w","t":32.26,"v":-10.141},{"id":"w6a","c":"w","t":33.66,"v":-10.141},{"id":"w6a","c":"w","t":33.86,"v":-10.161},{"id":"w6a","c":"w","t":34.26,"v":-10.153},{"id":"w6a","c":"w","t":34.56,"v":-10.129},{"id":"w6a","c":"w","t":34.96,"v":-10.161},{"id":"w6a","c":"w","t":35.56,"v":-10.141},{"id":"w6a","c":"w","t":36.06,"v":-10.165},{"id":"w6a","c":"w","t":36.56,"v":-10.133},{"id":"w6a","c":"w","t":37.16,"v":-10.165},{"id":"w6a","c":"w","t":37.76,"v":-10.141},{"id":"w6a","c":"w","t":49.92,"v":-10.141},
{"id":"w6b","c":"w","t":0,"v":-10.646},{"id":"w6b","c":"w","t":0.38,"v":-10.626},{"id":"w6b","c":"w","t":0.6,"v":-10.662},{"id":"w6b","c":"w","t":0.8,"v":-10.63},{"id":"w6b","c":"w","t":1.0,"v":-10.646},{"id":"w6b","c":"w","t":8.1,"v":-10.646},{"id":"w6b","c":"w","t":8.22,"v":-10.67},{"id":"w6b","c":"w","t":8.34,"v":-10.646},{"id":"w6b","c":"w","t":12.34,"v":-10.646},{"id":"w6b","c":"w","t":12.44,"v":-10.666},{"id":"w6b","c":"w","t":12.54,"v":-10.646},{"id":"w6b","c":"w","t":13.36,"v":-10.646},{"id":"w6b","c":"w","t":13.46,"v":-10.666},{"id":"w6b","c":"w","t":13.56,"v":-10.646},{"id":"w6b","c":"w","t":15.48,"v":-10.646},{"id":"w6b","c":"w","t":15.58,"v":-10.666},{"id":"w6b","c":"w","t":15.68,"v":-10.646},{"id":"w6b","c":"w","t":16.76,"v":-10.646},{"id":"w6b","c":"w","t":16.86,"v":-10.666},{"id":"w6b","c":"w","t":16.96,"v":-10.646},{"id":"w6b","c":"w","t":24.1,"v":-10.646},{"id":"w6b","c":"w","t":24.3,"v":-10.662},{"id":"w6b","c":"w","t":24.5,"v":-10.642},{"id":"w6b","c":"w","t":24.7,"v":-10.666},{"id":"w6b","c":"w","t":24.9,"v":-10.646},{"id":"w6b","c":"w","t":33.82,"v":-10.646},{"id":"w6b","c":"w","t":33.92,"v":-10.666},{"id":"w6b","c":"w","t":34.02,"v":-10.646},{"id":"w6b","c":"w","t":36.62,"v":-10.646},{"id":"w6b","c":"w","t":36.72,"v":-10.666},{"id":"w6b","c":"w","t":36.82,"v":-10.646},{"id":"w6b","c":"w","t":49.92,"v":-10.646}
],
"labels":[
{"txt":"ADU I - ADU I+","t":0,"ts":-0.1,"y":-0.238,"yt":-0.129,"yb":-0.347,"te":5.6},
{"txt":"GEM I - GEM I+","t":0,"ts":-0.1,"y":-2.253,"yt":-2.144,"yb":-2.362,"te":5.84},
{"txt":"BC I - BC I+","t":0,"ts":-0.1,"y":-4.461,"yt":-4.352,"yb":-4.57,"te":4.5},
{"txt":"ADU D - ADU D+","t":0,"ts":-0.1,"y":-6.077,"yt":-5.968,"yb":-6.186,"te":6.26},
{"txt":"GEM D - GEM D+","t":0,"ts":-0.1,"y":-7.687,"yt":-7.578,"yb":-7.796,"te":6.4},
{"txt":"BC D - BC D+","t":0,"ts":-0.1,"y":-9.621,"yt":-9.512,"yb":-9.73,"te":5.08}
],
"info":[
{"k":"set","s":0,"txt":"Set 261 12:00:17","z":"0","t":38.9,"tz":46.08,"y":-0.279,"yt":-0.168,"yb":-0.39,"te":46.8},
{"k":"cal","s":0,"txt":"200 µv/div 5 ms/div 2.8 mA","z":"","t":38.9,"tz":46.08,"y":-0.505,"yt":-0.394,"yb":-0.616,"te":49.16},
{"k":"set","s":1,"txt":"Set 184 11:15:11","z":"0","t":38.9,"tz":46.08,"y":-0.783,"yt":-0.672,"yb":-0.894,"te":46.8},
{"k":"cal","s":1,"txt":"200 µv/div 5 ms/div 0.8 mA","z":"","t":38.9,"tz":46.08,"y":-1.009,"yt":-0.898,"yb":-1.12,"te":49.16},
{"k":"set","s":0,"txt":"Set 183 11:15:11","z":"0","t":38.9,"tz":46.08,"y":-1.288,"yt":-1.177,"yb":-1.399,"te":46.8},
{"k":"cal","s":0,"txt":"200 µv/div 5 ms/div 0.8 mA","z":"","t":38.9,"tz":46.08,"y":-1.514,"yt":-1.403,"yb":-1.625,"te":49.16},
{"k":"set","s":0,"txt":"Set 261 12:00:17","z":"0","t":38.9,"tz":46.08,"y":-2.293,"yt":-2.182,"yb":-2.404,"te":46.8},
{"k":"cal","s":0,"txt":"200 µv/div 5 ms/div 2.8 mA","z":"","t":38.9,"tz":46.08,"y":-2.519,"yt":-2.408,"yb":-2.63,"te":49.16},
{"k":"set","s":0,"txt":"Set 184 11:15:11","z":"0","t":38.9,"tz":46.08,"y":-2.798,"yt":-2.687,"yb":-2.909,"te":46.8},
{"k":"cal","s":0,"txt":"200 µv/div 5 ms/div 0.8 mA","z":"","t":38.9,"tz":46.08,"y":-3.024,"yt":-2.913,"yb":-3.135,"te":49.16},
{"k":"set","s":0,"txt":"Set 183 11:15:11","z":"0","t":38.9,"tz":46.08,"y":-3.302,"yt":-3.191,"yb":-3.413,"te":46.8},
{"k":"cal","s":0,"txt":"200 µv/div 5 ms/div 0.8 mA","z":"","t":38.9,"tz":46.08,"y":-3.528,"yt":-3.417,"yb":-3.639,"te":49.16},
{"k":"set","s":0,"txt":"Set 261 12:00:17","z":"0","t":38.9,"tz":46.08,"y":-4.501,"yt":-4.39,"yb":-4.612,"te":46.8},
{"k":"cal","s":0,"txt":"200 µv/div 5 ms/div 2.8 mA","z":"","t":38.9,"tz":46.08,"y":-4.728,"yt":-4.617,"yb":-4.839,"te":49.16},
{"k":"set","s":0,"txt":"Set 184 11:15:11","z":"0","t":38.9,"tz":46.08,"y":-5.006,"yt":-4.895,"yb":-5.117,"te":46.8},
{"k":"cal","s":0,"txt":"200 µv/div 5 ms/div 0.8 mA","z":"","t":38.9,"tz":46.08,"y":-5.232,"yt":-5.121,"yb":-5.343,"te":49.16},
{"k":"set","s":0,"txt":"Set 183 11:15:11","z":"0","t":38.9,"tz":46.08,"y":-5.511,"yt":-5.4,"yb":-5.622,"te":46.8},
{"k":"cal","s":0,"txt":"200 µv/div 5 ms/div 0.8 mA","z":"","t":38.9,"tz":46.08,"y":-5.737,"yt":-5.626,"yb":-5.848,"te":49.16},
{"k":"set","s":0,"txt":"Set 261 12:00:17","z":"0","t":38.9,"tz":46.08,"y":-6.116,"yt":-6.005,"yb":-6.227,"te":46.8},
{"k":"cal","s":0,"txt":"200 µv/div 5 ms/div 2.8 mA","z":"","t":38.9,"tz":46.08,"y":-6.342,"yt":-6.231,"yb":-6.453,"te":49.16},
{"k":"set","s":0,"txt":"Set 184 11:15:11","z":"0","t":38.9,"tz":46.08,"y":-6.621,"yt":-6.51,"yb":-6.732,"te":46.8},
{"k":"cal","s":0,"txt":"200 µv/div 5 ms/div 0.8 mA","z":"","t":38.9,"tz":46.08,"y":-6.847,"yt":-6.736,"yb":-6.958,"te":49.16},
{"k":"set","s":0,"txt":"Set 183 11:15:11","z":"0","t":38.9,"tz":46.08,"y":-7.126,"yt":-7.015,"yb":-7.237,"te":46.8},
{"k":"cal","s":0,"txt":"200 µv/div 5 ms/div 0.8 mA","z":"","t":38.9,"tz":46.08,"y":-7.352,"yt":-7.241,"yb":-7.463,"te":49.16},
{"k":"set","s":0,"txt":"Set 261 12:00:17","z":"0","t":38.9,"tz":46.08,"y":-7.727,"yt":-7.616,"yb":-7.838,"te":46.8},
{"k":"cal","s":0,"txt":"200 µv/div 5 ms/div 2.8 mA","z":"","t":38.9,"tz":46.08,"y":-7.953,"yt":-7.842,"yb":-8.064,"te":49.16},
{"k":"set","s":0,"txt":"Set 184 11:15:11","z":"0","t":38.9,"tz":46.08,"y":-8.232,"yt":-8.121,"yb":-8.343,"te":46.8},
{"k":"cal","s":0,"txt":"200 µv/div 5 ms/div 0.8 mA","z":"","t":38.9,"tz":46.08,"y":-8.458,"yt":-8.347,"yb":-8.569,"te":49.16},
{"k":"set","s":0,"txt":"Set 183 11:15:11","z":"0","t":38.9,"tz":46.08,"y":-8.736,"yt":-8.625,"yb":-8.847,"te":46.8},
{"k":"cal","s":0,"txt":"200 µv/div 5 ms/div 0.8 mA","z":"","t":38.9,"tz":46.08,"y":-8.962,"yt":-8.851,"yb":-9.073,"te":49.16},
{"k":"set","s":0,"txt":"Set 261 12:00:17","z":"0","t":38.9,"tz":46.08,"y":-9.657,"yt":-9.546,"yb":-9.768,"te":46.8},
{"k":"cal","s":0,"txt":"200 µv/div 5 ms/div 2.8 mA","z":"","t":38.9,"tz":46.08,"y":-9.883,"yt":-9.772,"yb":-9.994,"te":49.16},
{"k":"set","s":0,"txt":"Set 184 11:15:11","z":"0","t":38.9,"tz":46.08,"y":-10.161,"yt":-10.05,"yb":-10.272,"te":46.8},
{"k":"cal","s":0,"txt":"200 µv/div 5 ms/div 0.8 mA","z":"","t":38.9,"tz":46.08,"y":-10.388,"yt":-10.277,"yb":-10.499,"te":49.16},
{"k":"set","s":0,"txt":"Set 183 11:15:11","z":"0","t":38.9,"tz":46.08,"y":-10.666,"yt":-10.555,"yb":-10.777,"te":46.8},
{"k":"cal","s":0,"txt":"200 µv/div 5 ms/div 0.8 mA","z":"","t":38.9,"tz":46.08,"y":-10.892,"yt":-10.781,"yb":-11.003,"te":49.16}
],
"diam":[{"t":38.3,"y":-0.488},{"t":38.3,"y":-2.503},{"t":38.3,"y":-4.711},{"t":38.3,"y":-6.326},{"t":38.3,"y":-7.937},{"t":38.3,"y":-9.867}],
"lat":[{"t":6.72,"y1":-4.259,"y2":-4.554,"txt":"Lat","ty":-4.138}]
},
"layer":[
{"data":{"name":"vgrid"},"mark":{"type":"rule","color":"#22cc33","strokeWidth":6,"strokeDash":[13,11]},
 "encoding":{"x":{"field":"t","type":"quantitative","scale":{"domain":[-0.24,49.92],"nice":false,"zero":false},"axis":null}}},
{"data":{"name":"hgrid"},"mark":{"type":"rule","color":"#22cc33","strokeWidth":6,"strokeDash":[10,13.4]},
 "encoding":{"y":{"field":"v","type":"quantitative","scale":{"domain":[-11.393,0.908],"nice":false,"zero":false},"axis":null}}},
{"data":{"name":"traces"},"transform":[{"filter":"datum.c == 'w'"}],"mark":{"type":"line","color":"#ececf6","strokeWidth":5,"strokeJoin":"round"},
 "encoding":{"x":{"field":"t","type":"quantitative","axis":null},"y":{"field":"v","type":"quantitative","axis":null},"detail":{"field":"id","type":"nominal"}}},
{"data":{"name":"traces"},"transform":[{"filter":"datum.c == 'c'"}],"mark":{"type":"line","color":"#4ec6ee","strokeWidth":4.5,"strokeJoin":"round"},
 "encoding":{"x":{"field":"t","type":"quantitative","axis":null},"y":{"field":"v","type":"quantitative","axis":null},"detail":{"field":"id","type":"nominal"}}},
{"data":{"name":"traces"},"transform":[{"filter":"datum.c == 'g'"}],"mark":{"type":"line","color":"#14e614","strokeWidth":6,"strokeJoin":"round"},
 "encoding":{"x":{"field":"t","type":"quantitative","axis":null},"y":{"field":"v","type":"quantitative","axis":null},"detail":{"field":"id","type":"nominal"}}},
{"data":{"name":"labels"},"mark":{"type":"rect","color":"#000040"},
 "encoding":{"x":{"field":"ts","type":"quantitative","axis":null},"x2":{"field":"te"},"y":{"field":"yt","type":"quantitative","axis":null},"y2":{"field":"yb"}}},
{"data":{"name":"info"},"mark":{"type":"rect"},
 "encoding":{"x":{"field":"t","type":"quantitative","axis":null},"x2":{"field":"te"},"y":{"field":"yt","type":"quantitative","axis":null},"y2":{"field":"yb"},
  "color":{"condition":{"test":"datum.s == 1","value":"#4fc8f2"},"value":"#000040"}}},
{"data":{"name":"labels"},"mark":{"type":"text","align":"left","baseline":"middle","font":"Liberation Sans","fontWeight":"bold","fontSize":40,"color":"#f4f4f4"},
 "encoding":{"x":{"field":"t","type":"quantitative","axis":null},"y":{"field":"y","type":"quantitative","axis":null},"text":{"field":"txt","type":"nominal"}}},
{"data":{"name":"info"},"mark":{"type":"text","align":"left","baseline":"middle","font":"Liberation Sans","fontSize":43,"dx":2},
 "encoding":{"x":{"field":"t","type":"quantitative","axis":null},"y":{"field":"y","type":"quantitative","axis":null},"text":{"field":"txt","type":"nominal"},
  "color":{"condition":{"test":"datum.s == 1","value":"#00002a"},"value":"#f4f4f4"}}},
{"data":{"name":"info"},"mark":{"type":"text","align":"left","baseline":"middle","font":"Liberation Sans","fontSize":43},
 "encoding":{"x":{"field":"tz","type":"quantitative","axis":null},"y":{"field":"y","type":"quantitative","axis":null},"text":{"field":"z","type":"nominal"},
  "color":{"condition":{"test":"datum.s == 1","value":"#00002a"},"value":"#f4f4f4"}}},
{"data":{"name":"diam"},"mark":{"type":"point","shape":"diamond","filled":true,"size":1800,"color":"#14e614","opacity":1},
 "encoding":{"x":{"field":"t","type":"quantitative","axis":null},"y":{"field":"y","type":"quantitative","axis":null}}},
{"data":{"name":"lat"},"mark":{"type":"rule","color":"#f4f4f4","strokeWidth":3},
 "encoding":{"x":{"field":"t","type":"quantitative","axis":null},"y":{"field":"y1","type":"quantitative","axis":null},"y2":{"field":"y2"}}},
{"data":{"name":"lat"},"mark":{"type":"text","align":"center","baseline":"middle","font":"Liberation Sans","fontWeight":"bold","fontSize":48,"color":"#f4f4f4"},
 "encoding":{"x":{"field":"t","type":"quantitative","axis":null},"y":{"field":"ty","type":"quantitative","axis":null},"text":{"field":"txt","type":"nominal"}}},
{"data":{"name":"frameV"},"mark":{"type":"rule","strokeWidth":3},
 "encoding":{"x":{"field":"t","type":"quantitative","axis":null},"color":{"field":"col","type":"nominal","scale":null,"legend":null}}},
{"data":{"name":"frameH"},"mark":{"type":"rule","strokeWidth":6,"color":"#ffffff"},
 "encoding":{"y":{"field":"v","type":"quantitative","axis":null}}}
]
}
